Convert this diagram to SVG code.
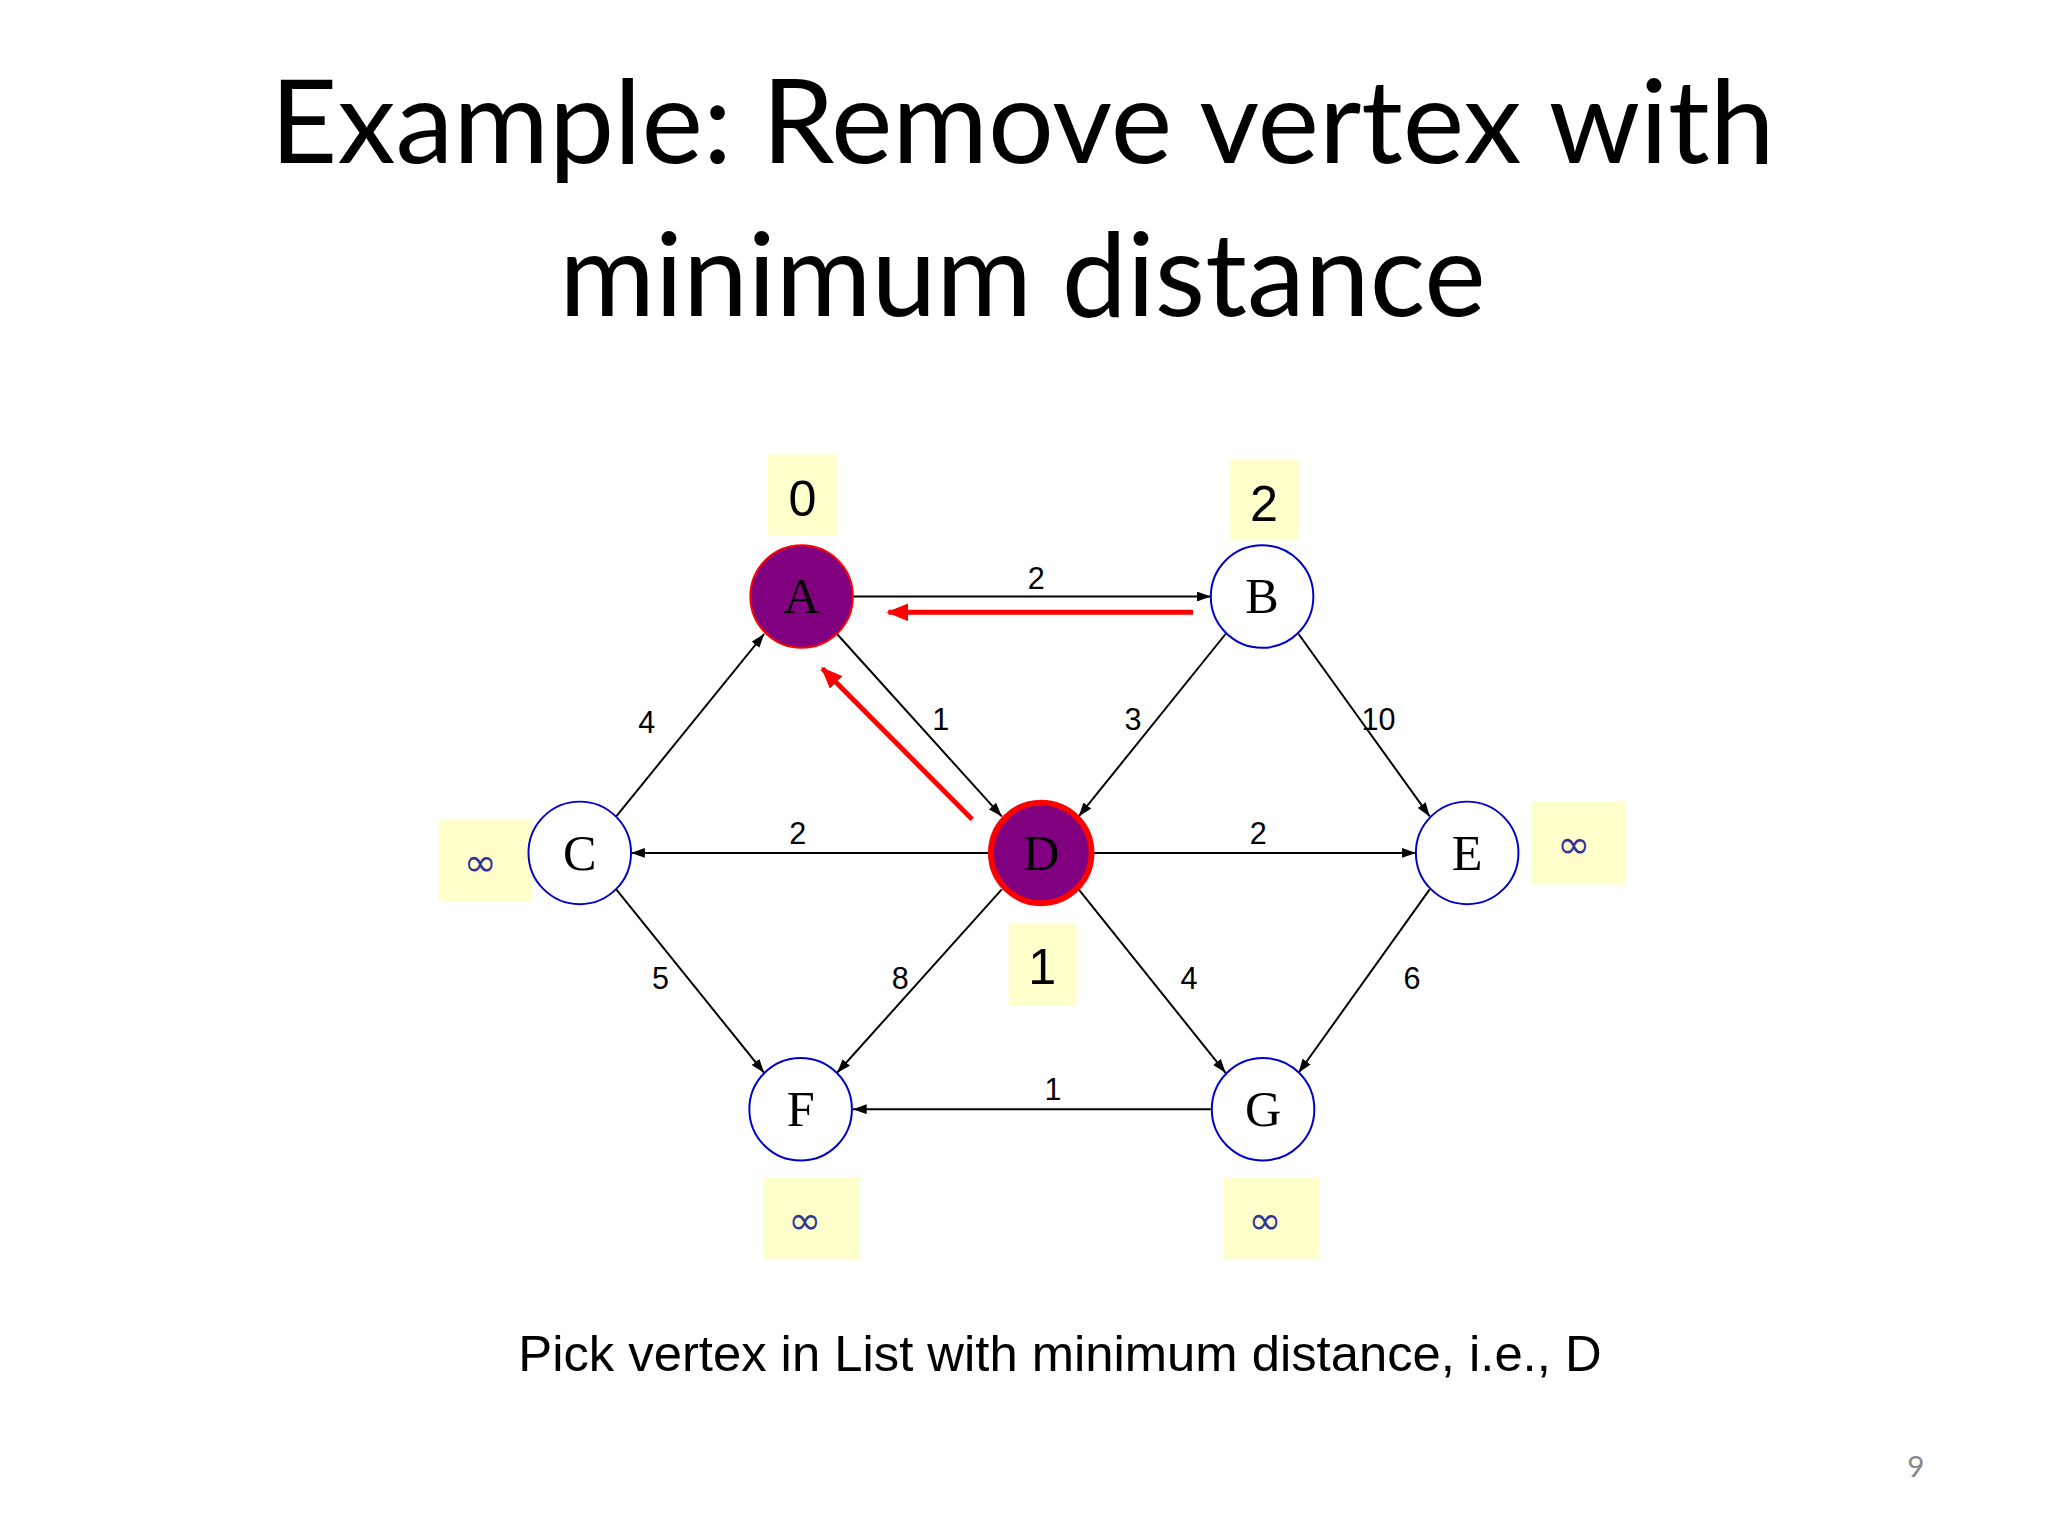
<svg xmlns="http://www.w3.org/2000/svg" width="2048" height="1536" viewBox="0 0 2048 1536">
<defs>
<marker id="ah" markerWidth="14" markerHeight="10" refX="14" refY="5" orient="auto" markerUnits="userSpaceOnUse"><path d="M0,0 L14,5 L0,10 z" fill="#000"/></marker>
<marker id="rh" markerWidth="22" markerHeight="18" refX="20" refY="9" orient="auto" markerUnits="userSpaceOnUse"><path d="M0,0 L22,9 L0,18 z" fill="#f00"/></marker>
<style>
.e{stroke:#000;stroke-width:2;fill:none;marker-end:url(#ah)}
.r{stroke:#f00;stroke-width:5;fill:none;marker-end:url(#rh)}
.el{font-family:"Liberation Sans",Arial,sans-serif;font-size:31px;text-anchor:middle}
.n{fill:#fff;stroke:#00c;stroke-width:2}
.nv{fill:#800080;stroke:#f00;stroke-width:2}
.nl{font-family:"Liberation Serif",serif;font-size:51px;text-anchor:middle}
.bx{fill:#ffffcc}
.dl{font-family:"Liberation Sans",Arial,sans-serif;font-size:51px;text-anchor:middle}
.inf{font-family:"DejaVu Sans",sans-serif;font-size:40px;fill:#333399;text-anchor:middle}
</style>
</defs>
<rect width="2048" height="1536" fill="#fff"/>
<g transform="scale(0.986)">
<text x="1037" y="165" font-family="Lato,sans-serif" font-size="118" text-anchor="middle">Example: Remove vertex with</text>
<text x="1037" y="320" font-family="Lato,sans-serif" font-size="118" text-anchor="middle">minimum distance</text>
<g id="connectors">
<line class="e" x1="865" y1="605" x2="1228" y2="605"/>
<line class="e" x1="848" y1="642" x2="1016" y2="828"/>
<line class="e" x1="625" y1="828" x2="775" y2="643"/>
<line class="e" x1="1243" y1="643" x2="1094" y2="828"/>
<line class="e" x1="1317" y1="643" x2="1450" y2="828"/>
<line class="e" x1="1003" y1="865" x2="640" y2="865"/>
<line class="e" x1="1108" y1="865" x2="1436" y2="865"/>
<line class="e" x1="625" y1="902" x2="775" y2="1088"/>
<line class="e" x1="1016" y1="902" x2="849" y2="1088"/>
<line class="e" x1="1094" y1="902" x2="1243" y2="1088"/>
<line class="e" x1="1450" y1="902" x2="1317" y2="1088"/>
<line class="e" x1="1228" y1="1125" x2="865" y2="1125"/>
<line class="r" x1="1210" y1="621" x2="901" y2="621"/>
<line class="r" x1="986" y1="831" x2="834" y2="678"/>
<text class="el" x="1051" y="597">2</text>
<text class="el" x="954" y="740">1</text>
<text class="el" x="656" y="743">4</text>
<text class="el" x="1149" y="740">3</text>
<text class="el" x="1398" y="740">10</text>
<text class="el" x="809" y="856">2</text>
<text class="el" x="1276" y="856">2</text>
<text class="el" x="670" y="1003">5</text>
<text class="el" x="913" y="1003">8</text>
<text class="el" x="1206" y="1003">4</text>
<text class="el" x="1432" y="1003">6</text>
<text class="el" x="1068" y="1116">1</text>
</g>
<g id="A"><circle class="nv" cx="813" cy="605" r="52"/><text class="nl" x="813" y="622">A</text><rect class="bx" x="779" y="461" width="70" height="82"/><text class="dl" x="814" y="523">0</text></g>
<g id="B"><circle class="n" cx="1280" cy="605" r="52"/><text class="nl" x="1280" y="622">B</text><rect class="bx" x="1247" y="466" width="70" height="82"/><text class="dl" x="1282" y="528">2</text></g>
<g id="C"><rect class="bx" x="445" y="831" width="95" height="83"/><circle class="n" cx="588" cy="865" r="52"/><text class="nl" x="588" y="882">C</text><text class="inf" x="487" y="888">∞</text></g>
<g id="D"><circle cx="1056" cy="865" r="51" fill="#800080" stroke="#f00" stroke-width="6"/><text class="nl" x="1056" y="882">D</text><rect class="bx" x="1023" y="937" width="69" height="83"/><text class="dl" x="1057" y="998">1</text></g>
<g id="E"><circle class="n" cx="1488" cy="865" r="52"/><text class="nl" x="1488" y="882">E</text><rect class="bx" x="1553" y="813" width="96" height="84"/><text class="inf" x="1596" y="870">∞</text></g>
<g id="F"><circle class="n" cx="812" cy="1125" r="52"/><text class="nl" x="812" y="1142">F</text><rect class="bx" x="774" y="1194" width="98" height="83"/><text class="inf" x="816" y="1252">∞</text></g>
<g id="G"><circle class="n" cx="1281" cy="1125" r="52"/><text class="nl" x="1281" y="1142">G</text><rect class="bx" x="1241" y="1194" width="97" height="83"/><text class="inf" x="1283" y="1252">∞</text></g>
<text x="1075" y="1390" font-family="Liberation Sans,Arial,sans-serif" font-size="51.5" text-anchor="middle">Pick vertex in List with minimum distance, i.e., D</text>
<text x="1943" y="1498" font-family="Lato,sans-serif" font-size="30" fill="#888" text-anchor="middle">9</text>
</g>
</svg>
